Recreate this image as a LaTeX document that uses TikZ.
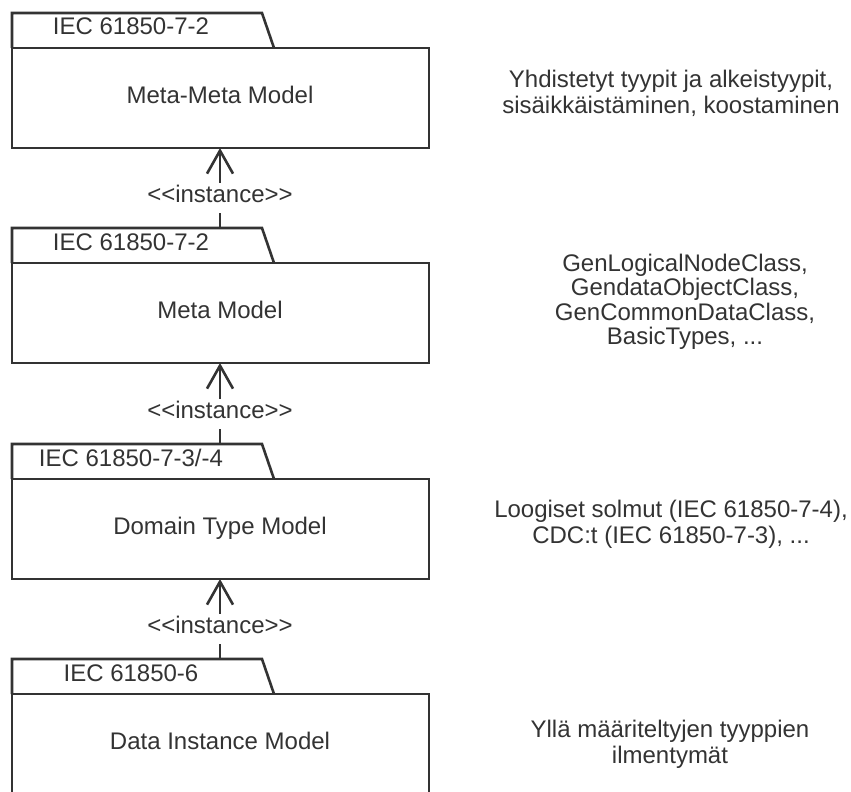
\documentclass[tikz,border=0pt]{standalone}
\usepackage{fontspec}
\setmainfont{Liberation Sans}
\usetikzlibrary{arrows.meta}
\definecolor{ink}{HTML}{333333}

% one UML package: #1 name, #2 top of the tab, #3 tab text, #4 title
\newcommand\umlpackage[4]{%
  \draw (12,#2+35) -- (12,#2) -- (262,#2) -- (274,#2+35);
  \node[body] (#1) at (12,#2+35) {};
  \coordinate (#1in) at (220,#2);
  \node[tabtext] (#1tab) at (131,#2+22) {#3};
  \node[title] (#1title) at (220,#2+90) {#4};
}
% stereotype text, kept as plain angle brackets
\newcommand\instlabel{\hbox{<}\hbox{<}instance\hbox{>}\hbox{>}}

\begin{document}
\begin{tikzpicture}[x=1pt, y=-1pt, line width=2.6pt, draw=ink, text=ink,
  font=\fontsize{24}{26}\selectfont,
  body/.style={draw=ink, minimum width=417pt, minimum height=100pt,
    inner sep=0pt, outer sep=0pt, anchor=north west},
  tabtext/.style={anchor=base, inner sep=0pt},
  title/.style={anchor=base, inner sep=0pt},
  note/.style={anchor=base, align=center, inner sep=0pt},
  stereo/.style={anchor=base, inner xsep=2pt, inner ysep=0pt,
    text height=18pt, text depth=10pt},
  inst/.style={-{Straight Barb[length=23pt, width=26pt]}}]

\useasboundingbox (0,0) rectangle (851,792);
\clip (0,0) rectangle (851,792);

\umlpackage{p1}{13}{IEC 61850-7-2}{Meta-Meta Model}
\umlpackage{p2}{228}{IEC 61850-7-2}{Meta Model}
\umlpackage{p3}{444}{IEC 61850-7-3/-4}{Domain Type Model}
\umlpackage{p4}{659}{IEC 61850-6}{Data Instance Model}

% instance dependencies
\node[stereo] (s1) at (220,202) {\instlabel};
\node[stereo] (s2) at (220,418) {\instlabel};
\node[stereo] (s3) at (220,633) {\instlabel};

\draw (p2in) -- (s1.south);
\draw[inst] (s1.north) -- (s1.north |- p1.south);
\draw (p3in) -- (s2.south);
\draw[inst] (s2.north) -- (s2.north |- p2.south);
\draw (p4in) -- (s3.south);
\draw[inst] (s3.north) -- (s3.north |- p3.south);

% descriptions (anchored at the baseline of their last line)
\node[note] (n1) at (671,113) {Yhdistetyt tyypit ja alkeistyypit,\\sisäikkäistäminen, koostaminen};
\node[note, font=\fontsize{24}{24.5}\selectfont] (n2) at (685,344.5)
  {GenLogicalNodeClass,\\GendataObjectClass,\\GenCommonDataClass,\\BasicTypes, ...};
\node[note] (n3) at (671,543) {Loogiset solmut (IEC 61850-7-4),\\CDC:t (IEC 61850-7-3), ...};
\node[note] (n4) at (670,763) {Yllä määriteltyjen tyyppien\\ilmentymät};
\end{tikzpicture}
\end{document}
